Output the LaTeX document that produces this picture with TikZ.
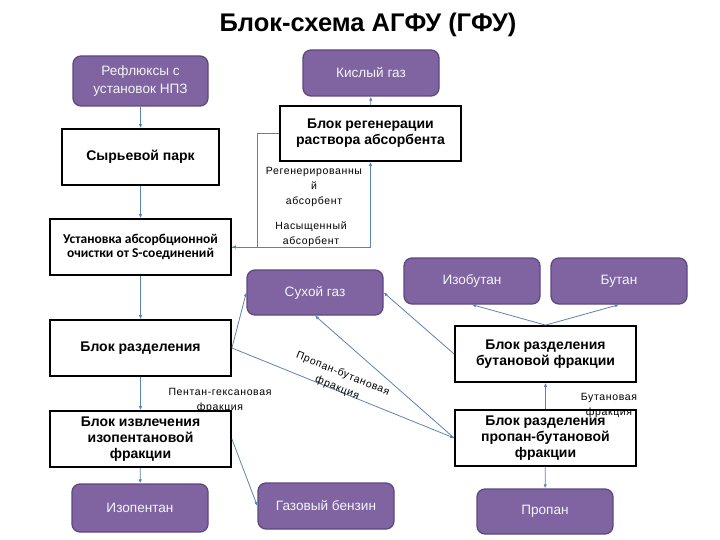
\documentclass[tikz,border=0pt]{standalone}
\usepackage{fontspec}
\setmainfont{Liberation Sans}
\newfontfamily\calfont{Carlito}
\newfontfamily\lblfont[LetterSpace=6]{Liberation Sans}
\usetikzlibrary{arrows.meta,positioning}
\definecolor{purp}{HTML}{8064A2}
\definecolor{purpb}{HTML}{5E4880}
\definecolor{conn}{HTML}{5B82B0}
\definecolor{ptext}{HTML}{F4F4F4}
\tikzset{
  prod/.style={draw=purpb, line width=1.3pt, fill=purp, rounded corners=8pt,
    minimum width=136pt, minimum height=46pt, inner sep=2pt, align=center,
    text=ptext, font=\fontsize{13.6}{17.5}\selectfont},
  unit/.style={draw=black, line width=1.8pt, fill=white, minimum width=181pt,
    minimum height=56pt, inner sep=2pt, align=center,
    font=\fontsize{14}{16}\selectfont\bfseries},
  flow/.style={draw=conn, line width=0.8pt, -{Latex[length=4pt,width=3.5pt]}},
  lbl/.style={align=center, inner sep=0pt, font=\lblfont\fontsize{10.5}{15}\selectfont}
}
\begin{document}
\begin{tikzpicture}[x=1pt,y=-1pt]
\useasboundingbox (0,0) rectangle (720,540);
\node[font=\fontsize{25.5}{28}\selectfont\bfseries] (title) at (368,25) {Блок-схема АГФУ (ГФУ)};
% product boxes
\node[prod, minimum width=135pt, minimum height=50pt] (ref) at (140.5,81) {Рефлюксы с\\установок НПЗ};
\node[prod] (kis) at (371,73) {Кислый газ};
\node[prod, minimum height=45pt] (suh) at (315,292.5) {Сухой газ};
\node[prod] (izob) at (472,281) {Изобутан};
\node[prod] (but) at (619,281) {Бутан};
\node[prod, minimum height=48pt] (izop) at (140,508) {Изопентан};
\node[prod] (gb) at (326,506) {Газовый бензин};
\node[prod, minimum height=45pt] (prop) at (545,511.5) {Пропан};
% unit boxes
\node[unit, minimum width=157pt] (syr) at (140.5,157) {Сырьевой парк};
\node[unit, minimum height=55pt] (reg) at (370.5,133.5) {Блок регенерации\\раствора абсорбента};
\node[unit, font=\calfont\fontsize{13.5}{13.5}\selectfont\bfseries] (ust) at (140.5,247) {Установка абсорбционной\\очистки от S-соединений};
\node[unit] (raz) at (140.5,348) {Блок разделения};
\node[unit] (izv) at (140.5,439) {Блок извлечения\\изопентановой\\фракции};
\node[unit] (rbut) at (545.5,354) {Блок разделения\\бутановой фракции};
\node[unit] (rpb) at (545.5,438) {Блок разделения\\пропан-бутановой\\фракции};
% main chain
\draw[flow] (ref) -- (syr);
\draw[flow] (syr) -- (ust);
\draw[flow] (ust) -- (raz);
\draw[flow] (raz) -- (izv);
\draw[flow] (izv) -- (izop);
\draw[flow] (izv.east) -- (gb.west);
\draw[flow] (raz.east) -- (suh.west);
\draw[flow] (raz.east) -- (rpb.west);
\draw[flow] (rpb.west) -- (suh.south);
\draw[flow] (rbut.west) -- (suh.east);
\draw[flow] (rbut.north) -- (izob.south);
\draw[flow] (rbut.north) -- (but.south);
\draw[flow] (rpb) -- (rbut);
\draw[flow] (rpb) -- (prop);
% absorbent loop
\coordinate (j) at (257,247);
\draw[flow] (ust.east) -| (reg.south);
\draw[flow] (reg.west) -| (j) -- (ust.east);
\draw[flow] (reg) -- (kis);
% labels
\node[lbl] (l1) at (314,187) {Регенерированны\\й\\абсорбент};
\node[lbl] (l2) at (311,234) {Насыщенный\\абсорбент};
\node[lbl] (l3) at (220,400) {Пентан-гексановая\\фракция};
\node[lbl, rotate=-22] (l4) at (340,381) {Пропан-бутановая\\фракция};
\node[lbl] (l5) at (609,405) {Бутановая\\фракция};
\end{tikzpicture}
\end{document}
